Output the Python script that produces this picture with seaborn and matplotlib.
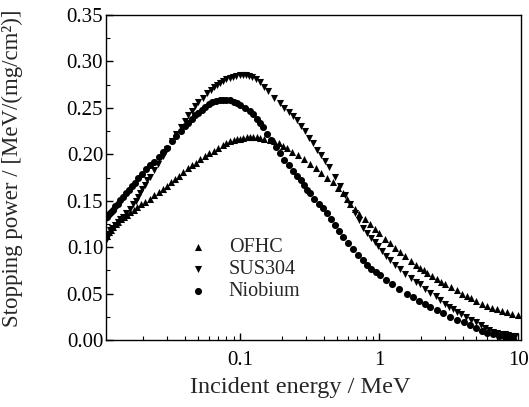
import numpy as np
import pandas as pd
import matplotlib
matplotlib.use('Agg')
import matplotlib.pyplot as plt
import seaborn as sns
from matplotlib.ticker import (FixedLocator, FixedFormatter, LogLocator, NullFormatter,
                               MultipleLocator, FormatStrFormatter)

# values (energy in MeV, stopping power in MeV/(mg/cm2))
ofhcE = [0.0110, 0.0114, 0.0118, 0.0123, 0.0128, 0.0134, 0.0140, 0.0147, 0.0155, 0.0163,
         0.0172, 0.0182, 0.0195, 0.0208, 0.0225, 0.0242, 0.026, 0.028, 0.030, 0.032,
         0.034, 0.0365, 0.039, 0.042, 0.045, 0.048, 0.052, 0.056, 0.060, 0.065,
         0.070, 0.075, 0.080, 0.085, 0.090, 0.095, 0.100, 0.106, 0.112, 0.118,
         0.124, 0.132, 0.140, 0.150, 0.164, 0.176, 0.190, 0.204, 0.218, 0.238,
         0.26, 0.288, 0.318, 0.35, 0.38, 0.42, 0.466, 0.51, 0.55, 0.59,
         0.62, 0.67, 0.72, 0.79, 0.86, 0.93, 1.0, 1.1, 1.2, 1.3,
         1.42, 1.55, 1.7, 1.83, 1.97, 2.1, 2.21, 2.4, 2.6, 2.8,
         3.0, 3.3, 3.64, 3.95, 4.3, 4.6, 5.0, 5.5, 6.0, 6.5,
         7.0, 7.6, 8.3, 9.1, 10.0]
ofhcS = [0.112, 0.116, 0.119, 0.122, 0.125, 0.127, 0.130, 0.132, 0.135, 0.138,
         0.140, 0.143, 0.146, 0.149, 0.152, 0.156, 0.159, 0.163, 0.166, 0.170,
         0.173, 0.177, 0.181, 0.185, 0.188, 0.191, 0.195, 0.198, 0.201, 0.204,
         0.207, 0.210, 0.212, 0.214, 0.215, 0.216, 0.217, 0.218, 0.219, 0.219,
         0.219, 0.219, 0.218, 0.217, 0.215, 0.214, 0.212, 0.209, 0.207, 0.203,
         0.199, 0.195, 0.190, 0.185, 0.180, 0.175, 0.170, 0.164, 0.158, 0.152,
         0.147, 0.141, 0.136, 0.130, 0.125, 0.120, 0.115, 0.109, 0.104, 0.099,
         0.095, 0.090, 0.085, 0.081, 0.078, 0.075, 0.072, 0.069, 0.066, 0.063,
         0.060, 0.057, 0.054, 0.050, 0.047, 0.045, 0.042, 0.039, 0.037, 0.035,
         0.033, 0.031, 0.030, 0.028, 0.027]

susE = [0.0107, 0.0111, 0.0114, 0.0117, 0.0120, 0.0126, 0.0132, 0.0138, 0.0145, 0.0153,
        0.0162, 0.0170, 0.0178, 0.0185, 0.0191, 0.0199, 0.0207, 0.0216, 0.0225, 0.024,
        0.0257, 0.0278, 0.030, 0.0325, 0.035, 0.0375, 0.040, 0.0425, 0.045, 0.0475,
        0.050, 0.054, 0.058, 0.0615, 0.065, 0.0685, 0.072, 0.076, 0.080, 0.0845,
        0.089, 0.0945, 0.100, 0.105, 0.110, 0.116, 0.122, 0.130, 0.139, 0.149,
        0.160, 0.176, 0.194, 0.209, 0.225, 0.24, 0.257, 0.275, 0.295, 0.315,
        0.335, 0.357, 0.38, 0.41, 0.44, 0.48, 0.52, 0.57, 0.62, 0.67,
        0.72, 0.77, 0.82, 0.87, 0.93, 0.99, 1.05, 1.12, 1.2, 1.3,
        1.42, 1.55, 1.7, 1.83, 1.97, 2.15, 2.33, 2.55, 2.75, 3.0,
        3.2, 3.4, 3.64, 3.9, 4.2, 4.6, 5.0, 5.4, 5.8, 6.2,
        6.6, 7.1, 7.6, 8.0, 8.5, 9.0, 9.5]
susS = [0.106, 0.110, 0.114, 0.118, 0.121, 0.124, 0.127, 0.130, 0.133, 0.137,
        0.141, 0.146, 0.150, 0.154, 0.158, 0.163, 0.167, 0.172, 0.176, 0.183,
        0.190, 0.198, 0.206, 0.214, 0.222, 0.229, 0.236, 0.242, 0.247, 0.252,
        0.256, 0.261, 0.266, 0.269, 0.272, 0.275, 0.277, 0.279, 0.281, 0.282,
        0.283, 0.284, 0.285, 0.285, 0.285, 0.284, 0.283, 0.281, 0.278, 0.273,
        0.268, 0.261, 0.255, 0.250, 0.246, 0.241, 0.237, 0.231, 0.225, 0.218,
        0.212, 0.205, 0.199, 0.193, 0.186, 0.176, 0.166, 0.156, 0.146, 0.137,
        0.129, 0.121, 0.115, 0.110, 0.106, 0.101, 0.096, 0.091, 0.086, 0.081,
        0.076, 0.071, 0.067, 0.063, 0.060, 0.055, 0.051, 0.047, 0.043, 0.039,
        0.036, 0.033, 0.030, 0.028, 0.025, 0.022, 0.019, 0.016, 0.013, 0.011,
        0.009, 0.008, 0.007, 0.006, 0.005, 0.004, 0.004]

nbE = [0.0103, 0.0106, 0.0110, 0.0114, 0.0118, 0.0122, 0.0127, 0.0133, 0.0138, 0.0144,
       0.0152, 0.0160, 0.0168, 0.0176, 0.0186, 0.0197, 0.021, 0.0225, 0.024, 0.026,
       0.028, 0.030, 0.0325, 0.035, 0.0375, 0.040, 0.0425, 0.045, 0.0475, 0.050,
       0.053, 0.056, 0.0595, 0.063, 0.0675, 0.072, 0.076, 0.080, 0.085, 0.090,
       0.095, 0.100, 0.109, 0.118, 0.125, 0.132, 0.139, 0.146, 0.157, 0.168,
       0.181, 0.194, 0.209, 0.225, 0.241, 0.257, 0.273, 0.29, 0.305, 0.318,
       0.343, 0.37, 0.395, 0.42, 0.45, 0.48, 0.515, 0.55, 0.6, 0.65,
       0.705, 0.767, 0.82, 0.88, 0.945, 1.016, 1.12, 1.25, 1.4, 1.59,
       1.76, 1.95, 2.13, 2.33, 2.6, 2.9, 3.25, 3.64, 4.05, 4.5,
       5.0, 5.5, 6.0, 6.6, 7.3, 8.0, 8.6, 9.2]
nbS = [0.126, 0.130, 0.133, 0.136, 0.138, 0.140, 0.144, 0.147, 0.151, 0.154,
       0.158, 0.162, 0.166, 0.169, 0.174, 0.179, 0.184, 0.188, 0.192, 0.197,
       0.202, 0.207, 0.214, 0.220, 0.225, 0.230, 0.234, 0.238, 0.242, 0.245,
       0.248, 0.251, 0.254, 0.256, 0.257, 0.258, 0.259, 0.259, 0.258, 0.256,
       0.255, 0.253, 0.250, 0.247, 0.243, 0.238, 0.234, 0.229, 0.222, 0.215,
       0.208, 0.201, 0.194, 0.188, 0.182, 0.177, 0.172, 0.167, 0.162, 0.158,
       0.152, 0.147, 0.142, 0.137, 0.130, 0.124, 0.117, 0.111, 0.104, 0.098,
       0.092, 0.086, 0.081, 0.077, 0.073, 0.070, 0.065, 0.060, 0.055, 0.050,
       0.046, 0.042, 0.039, 0.036, 0.032, 0.029, 0.025, 0.022, 0.019, 0.016,
       0.013, 0.010, 0.008, 0.006, 0.004, 0.003, 0.002, 0.001]

materials = ['OFHC', 'SUS304', 'Niobium']
markers = {'OFHC': '^', 'SUS304': 'v', 'Niobium': 'o'}
xTicks = [0.1, 1, 10]
xTickLabels = ['0.1', '1', '10']

df = pd.concat([
    pd.DataFrame({'E': ofhcE, 'S': ofhcS, 'material': 'OFHC'}),
    pd.DataFrame({'E': susE, 'S': susS, 'material': 'SUS304'}),
    pd.DataFrame({'E': nbE, 'S': nbS, 'material': 'Niobium'}),
])

sns.set_style('ticks')
plt.rcParams['font.family'] = ['Liberation Serif', 'DejaVu Serif']

fig = plt.figure(figsize=(5.29, 4.07), dpi=100)
ax = fig.add_axes([0.2004, 0.1646, 0.7846, 0.7984])

for m in materials:
    sub = df[df['material'] == m]
    sns.scatterplot(data=sub, x='E', y='S', marker=markers[m], color='black',
                    s=26, linewidth=0, label=m, ax=ax)

ax.set_xscale('log')
ax.set_xlim(0.0109, 10.5)
ax.set_ylim(0, 0.35)

ax.xaxis.set_major_locator(FixedLocator(xTicks))
ax.xaxis.set_major_formatter(FixedFormatter(xTickLabels))
ax.xaxis.set_minor_locator(LogLocator(base=10, subs=np.arange(2, 10)))
ax.xaxis.set_minor_formatter(NullFormatter())
ax.yaxis.set_major_locator(MultipleLocator(0.05))
ax.yaxis.set_minor_locator(MultipleLocator(0.025))
ax.yaxis.set_major_formatter(FormatStrFormatter('%.2f'))

ax.tick_params(which='both', direction='in', colors='black', labelsize=15)
ax.tick_params(which='major', length=5, width=1)
ax.tick_params(which='minor', length=3, width=0.8)
ax.tick_params(axis='x', which='major', pad=8)
ax.tick_params(axis='y', which='major', pad=2)
for sp in ax.spines.values():
    sp.set_color('black')
    sp.set_linewidth(1.0)

ax.set_xlabel('Incident energy / MeV', fontsize=17.5)
ax.xaxis.set_label_coords(0.467, -0.115)
ax.set_ylabel('Stopping power / [MeV/(mg/cm²)]', fontsize=16.5)
ax.yaxis.set_label_coords(-0.2, 0.53)

ax.legend(loc='upper left', bbox_to_anchor=(0.148, 0.37), frameon=False,
          fontsize=14.5, handletextpad=0.95, labelspacing=0.15, markerscale=1.0,
          handlelength=1.2)

fig.savefig('out.png', dpi=100)
